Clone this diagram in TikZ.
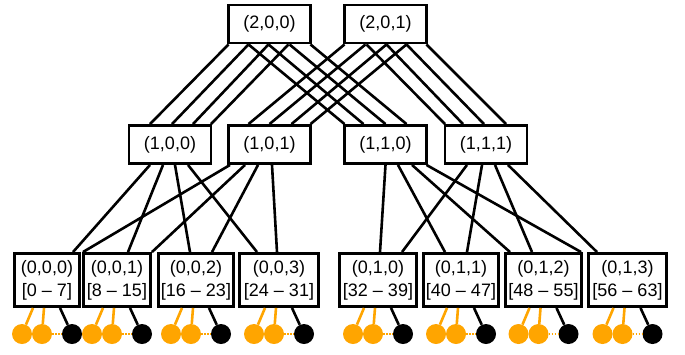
\documentclass[tikz,border=0pt]{standalone}
\usepackage{fontspec}
\setmainfont{Liberation Sans}
\definecolor{leaforange}{RGB}{255,165,0}
\begin{document}
\begin{tikzpicture}[x=1pt,y=-1pt,
  box/.style={draw, line width=2.9pt, fill=white, inner sep=0pt, minimum height=38pt, minimum width=82pt, font=\fontsize{18}{23}\selectfont},
  leafbox/.style={draw, line width=2.9pt, inner sep=0pt, minimum height=53pt, align=center, font=\fontsize{18}{23}\selectfont},
  link/.style={line width=2.6pt},
  olink/.style={line width=2.6pt, leaforange},
  blink/.style={line width=2.6pt, black},
  dlink/.style={line width=2.8pt, leaforange, dash pattern=on 1.6pt off 1.4pt},
  ocirc/.style={circle, fill=leaforange, inner sep=0pt, minimum size=20pt},
  bcirc/.style={circle, fill=black, inner sep=0pt, minimum size=20pt}]
\useasboundingbox (0,0) rectangle (685,354);

% top level
\node[box] (t200) at (269.5,24) {(2,0,0)};
\node[box] (t201) at (385.5,24) {(2,0,1)};
% middle level
\node[box] (m100) at (170,144.5) {(1,0,0)};
\node[box] (m101) at (269.5,144.5) {(1,0,1)};
\node[box] (m110) at (385.5,144.5) {(1,1,0)};
\node[box] (m111) at (486,144.5) {(1,1,1)};
% bottom level
\node[leafbox, minimum width=65pt] (b000) at (47,280) {(0,0,0)\\{}[0 \textendash{} 7]};
\node[leafbox, minimum width=67pt] (b001) at (117,280) {(0,0,1)\\{}[8 \textendash{} 15]};
\node[leafbox, minimum width=75pt] (b002) at (196,280) {(0,0,2)\\{}[16 \textendash{} 23]};
\node[leafbox, minimum width=79pt] (b003) at (279,280) {(0,0,3)\\{}[24 \textendash{} 31]};
\node[leafbox, minimum width=77pt] (b010) at (378,280) {(0,1,0)\\{}[32 \textendash{} 39]};
\node[leafbox, minimum width=75pt] (b011) at (461,280) {(0,1,1)\\{}[40 \textendash{} 47]};
\node[leafbox, minimum width=76pt] (b012) at (543.5,280) {(0,1,2)\\{}[48 \textendash{} 55]};
\node[leafbox, minimum width=78pt] (b013) at (627.5,280) {(0,1,3)\\{}[56 \textendash{} 63]};

% top to middle links
\foreach \s/\e in {-41/-20, -21/2, -1/23, 19/41}
  \draw[link] ([xshift=\s pt]t200.south) -- ([xshift=\e pt]m100.north);
\foreach \s/\e in {-21/-41, -1/-22, 20/0, 41/21}
  \draw[link] ([xshift=\s pt]t200.south) -- ([xshift=\e pt]m110.north);
\foreach \s/\e in {-41/-21, -20/0, 1/22, 21/41}
  \draw[link] ([xshift=\s pt]t201.south) -- ([xshift=\e pt]m101.north);
\foreach \s/\e in {-19/-41, 1/-23, 21/-2, 41/20}
  \draw[link] ([xshift=\s pt]t201.south) -- ([xshift=\e pt]m111.north);

% middle to bottom links
\draw[link] ([xshift=-20pt]m100.south) -- ([xshift=26pt]b000.north);
\draw[link] ([xshift=-7pt]m100.south) -- ([xshift=11pt]b001.north);
\draw[link] ([xshift=5pt]m100.south) -- ([xshift=-6pt]b002.north);
\draw[link] ([xshift=18pt]m100.south) -- ([xshift=-22pt]b003.north);
\draw[link] ([xshift=-39.5pt]m101.south) -- ([xshift=2pt]b000.north east);
\draw[link] ([xshift=-24.5pt]m101.south) -- (b001.north east);
\draw[link] ([xshift=-11.5pt]m101.south) -- ([xshift=16pt]b002.north);
\draw[link] ([xshift=2.5pt]m101.south) -- ([xshift=-2pt]b003.north);
\draw[link] ([xshift=0pt]m110.south) -- ([xshift=2pt]b010.north);
\draw[link] ([xshift=12.5pt]m110.south) -- ([xshift=-16pt]b011.north);
\draw[link] ([xshift=26.5pt]m110.south) -- ([xshift=-33.5pt]b012.north);
\draw[link] ([xshift=41pt]m110.south) -- ([xshift=-6pt]b013.north west);
\draw[link] ([xshift=-19pt]m111.south) -- ([xshift=24pt]b010.north);
\draw[link] ([xshift=-4pt]m111.south) -- ([xshift=6pt]b011.north);
\draw[link] ([xshift=9pt]m111.south) -- ([xshift=-11.5pt]b012.north);
\draw[link] ([xshift=22pt]m111.south) -- ([xshift=-30.5pt]b013.north);

% leaves
\foreach \n/\cx in {000/47, 001/117, 002/196, 003/279, 010/378, 011/461, 012/543.5, 013/627.5} {
  \node[ocirc] (la\n) at (\cx-25,334) {};
  \node[ocirc] (lb\n) at (\cx-5,334) {};
  \node[bcirc] (lc\n) at (\cx+25,334) {};
  \draw[olink] ([xshift=-14pt]b\n.south) -- (la\n);
  \draw[olink] ([xshift=-3pt]b\n.south) -- (lb\n);
  \draw[blink] ([xshift=13pt]b\n.south) -- (lc\n);
  \draw[dlink] (lb\n) -- (lc\n);
}
\end{tikzpicture}
\end{document}
